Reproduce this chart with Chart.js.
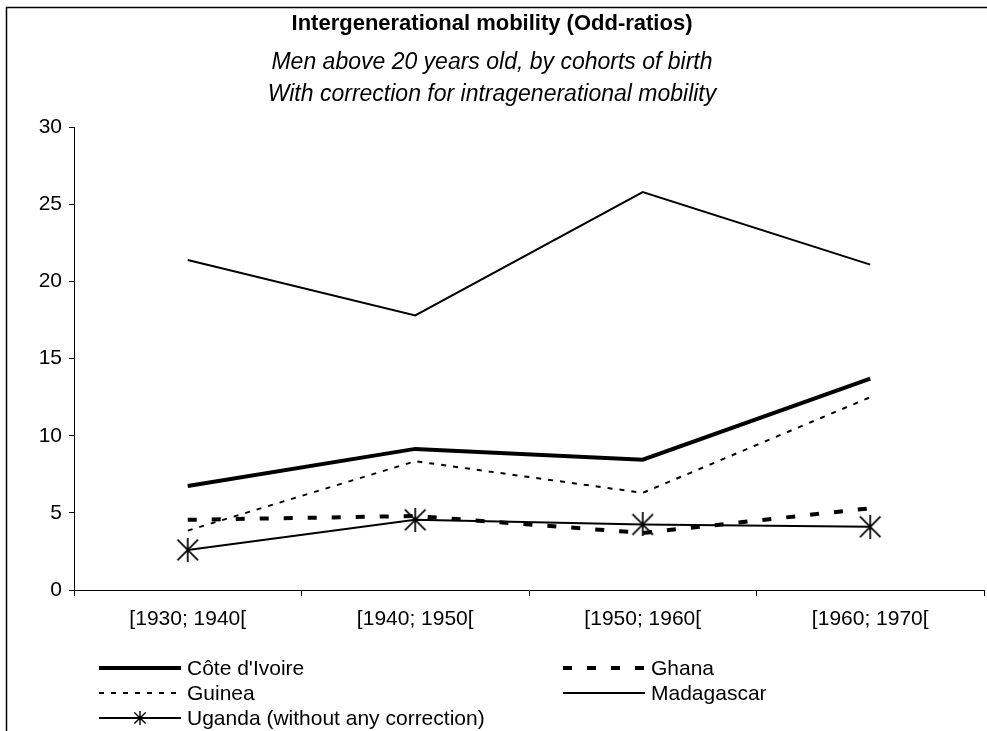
<!DOCTYPE html>
<html>
<head>
<meta charset="utf-8">
<script src="https://cdn.jsdelivr.net/npm/chart.js@4/dist/chart.umd.min.js"></script>
<style>
  html, body { margin: 0; padding: 0; background: #fff; }
  #wrap { width: 987px; height: 731px; position: relative; }
</style>
</head>
<body>
<div id="wrap"><canvas id="chart" width="987" height="731"></canvas></div>
<script>
// cohorts of birth (x categories)
const cohorts = ['[1930; 1940[', '[1940; 1950[', '[1950; 1960[', '[1960; 1970['];

// odd-ratios
const coteIvoire = [6.75, 9.15, 8.45, 13.7];
const ghana = [4.55, 4.8, 3.7, 5.3];
const guinea = [3.85, 8.35, 6.3, 12.5];
const madagascar = [21.4, 17.8, 25.8, 21.1];
const uganda = [2.6, 4.55, 4.25, 4.1];

const yTicks = [0, 5, 10, 15, 20, 25, 30];

const FONT = 'Arial, "Liberation Sans", sans-serif';

// star marker: X plus vertical stroke, like the spreadsheet marker
function starMarker(size, lw) {
    const c = document.createElement('canvas');
    c.width = size; c.height = size;
    const g = c.getContext('2d');
    const m = lw;
    g.strokeStyle = '#000';
    g.lineWidth = lw;
    g.beginPath();
    g.moveTo(m, m); g.lineTo(size - m, size - m);
    g.moveTo(size - m, m); g.lineTo(m, size - m);
    g.moveTo(size / 2, 0); g.lineTo(size / 2, size);
    g.stroke();
    return c;
}
const bigStar = starMarker(24, 1.7);
const smallStar = starMarker(14, 1.4);

// frame round the whole picture (cropped on the right and bottom)
const framePlugin = {
    id: 'frame',
    afterDraw(chart) {
        const ctx = chart.ctx;
        ctx.save();
        ctx.strokeStyle = '#000';
        ctx.lineWidth = 1.5;
        ctx.beginPath();
        ctx.moveTo(6.5, 731);
        ctx.lineTo(6.5, 7.5);
        ctx.lineTo(987, 7.5);
        ctx.stroke();
        ctx.restore();
    }
};

// legend in two columns, drawn from the dataset styles
const legendPlugin = {
    id: 'sideLegend',
    afterDraw(chart) {
        const ctx = chart.ctx;
        const slots = [
            { x: 99, y: 668 }, { x: 563, y: 668 },
            { x: 99, y: 693 }, { x: 563, y: 693 },
            { x: 99, y: 718 }
        ];
        ctx.save();
        ctx.font = '21px ' + FONT;
        ctx.textBaseline = 'middle';
        ctx.fillStyle = '#000';
        chart.data.datasets.forEach((ds, i) => {
            const s = slots[i];
            ctx.strokeStyle = ds.borderColor;
            ctx.lineWidth = ds.borderWidth;
            ctx.setLineDash(ds.borderDash || []);
            ctx.beginPath();
            ctx.moveTo(s.x, s.y);
            ctx.lineTo(s.x + 82, s.y);
            ctx.stroke();
            ctx.setLineDash([]);
            if (ds.legendMarker) {
                const m = ds.legendMarker;
                ctx.drawImage(m, s.x + 41 - m.width / 2, s.y - m.height / 2);
            }
            ctx.fillText(ds.label, s.x + 88, s.y + 1);
        });
        ctx.restore();
    }
};

new Chart(document.getElementById('chart'), {
    type: 'line',
    data: {
        labels: cohorts,
        datasets: [
            { label: "Côte d'Ivoire", data: coteIvoire, borderColor: '#000', borderWidth: 4, pointRadius: 0 },
            { label: 'Ghana', data: ghana, borderColor: '#000', borderWidth: 4, borderDash: [9, 15], pointRadius: 0 },
            { label: 'Guinea', data: guinea, borderColor: '#000', borderWidth: 2, borderDash: [5, 7], pointRadius: 0 },
            { label: 'Madagascar', data: madagascar, borderColor: '#000', borderWidth: 2, pointRadius: 0 },
            { label: 'Uganda (without any correction)', data: uganda, borderColor: '#000', borderWidth: 2,
              pointStyle: bigStar, pointRadius: 12, legendMarker: smallStar }
        ]
    },
    options: {
        responsive: false,
        animation: false,
        layout: { autoPadding: false, padding: { left: 0, right: 3, top: 0, bottom: 81 } },
        elements: { line: { tension: 0, fill: false } },
        plugins: {
            legend: { display: false },
            tooltip: { enabled: false },
            title: {
                display: true,
                text: 'Intergenerational mobility (Odd-ratios)',
                color: '#000',
                font: { family: FONT, size: 22, weight: 'bold', lineHeight: 1.2 },
                padding: { top: 11, bottom: 2 }
            },
            subtitle: {
                display: true,
                text: ['Men above 20 years old, by cohorts of birth', 'With correction for intragenerational mobility'],
                color: '#000',
                font: { family: FONT, size: 23, style: 'italic', lineHeight: 1.39 },
                padding: { top: 7, bottom: 17 }
            }
        },
        scales: {
            x: {
                offset: true,
                grid: { offset: true, drawOnChartArea: false, drawTicks: true, tickLength: 6, color: '#000' },
                border: { display: true, color: '#000', width: 1 },
                ticks: { color: '#000', font: { family: FONT, size: 21 }, padding: 11, maxRotation: 0 },
                afterFit(scale) {
                    scale.height = 60;
                    scale.paddingLeft = 0;
                    scale.paddingRight = 0;
                }
            },
            y: {
                min: 0,
                max: 30,
                afterBuildTicks(scale) { scale.ticks = yTicks.map(v => ({ value: v })); },
                grid: { drawOnChartArea: false, drawTicks: true, tickLength: 5, color: '#000' },
                border: { display: true, color: '#000', width: 1 },
                ticks: { color: '#000', font: { family: FONT, size: 21 }, padding: 7 },
                afterFit(scale) { scale.width = 74; }
            }
        }
    },
    plugins: [framePlugin, legendPlugin]
});
</script>
</body>
</html>
